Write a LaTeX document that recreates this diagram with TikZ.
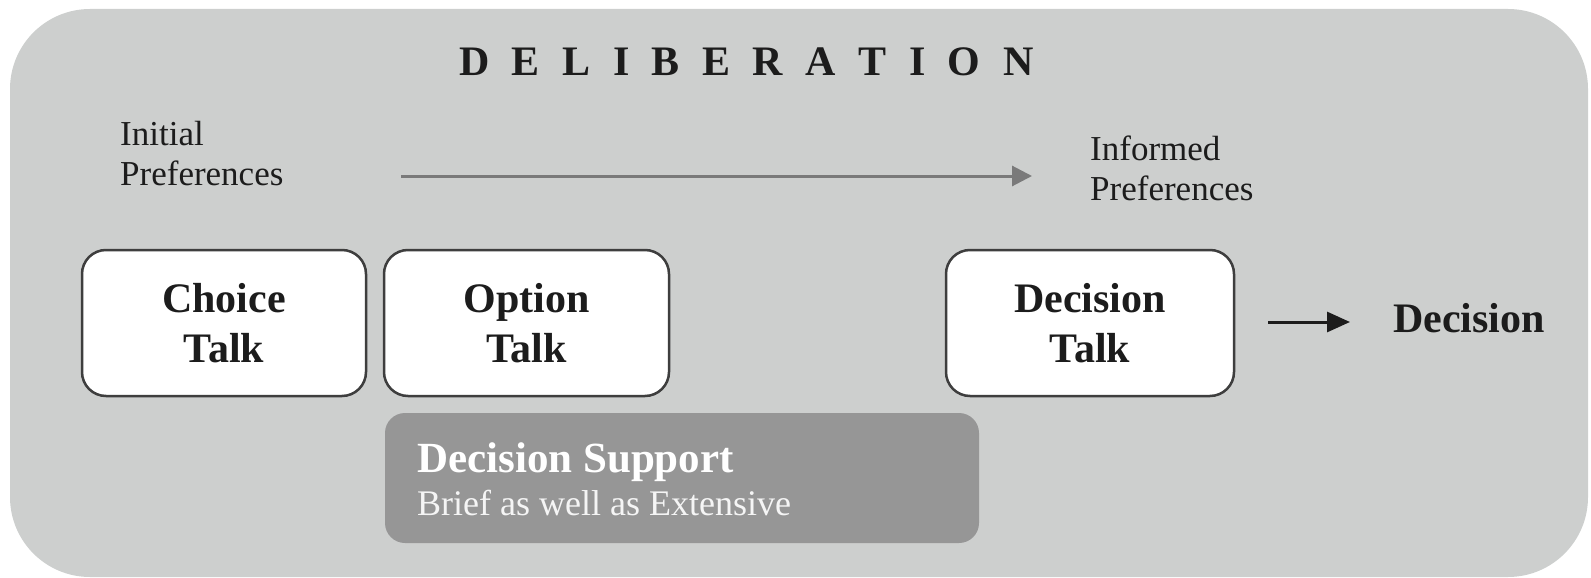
\documentclass[tikz,border=0pt]{standalone}
\usepackage{fontspec}
\setmainfont{Liberation Serif}
\usetikzlibrary{arrows.meta}
\definecolor{bgc}{RGB}{205,207,206}
\definecolor{supc}{RGB}{150,150,150}
\definecolor{bordc}{RGB}{62,62,62}
\definecolor{arrc}{RGB}{122,122,122}
\definecolor{txtc}{RGB}{28,28,28}
\tikzset{
  talkbox/.style={draw=bordc, line width=2.5pt, fill=white, rounded corners=24pt,
    minimum height=146pt, align=center, inner sep=0pt, text=txtc,
    font=\bfseries\fontsize{42}{50}\selectfont},
  preflabel/.style={anchor=base west, align=left, inner sep=0pt, text=txtc,
    font=\fontsize{35}{40}\selectfont},
}
\begin{document}
\begin{tikzpicture}[x=1pt,y=-1pt]
\useasboundingbox (0,0) rectangle (1591,578);
% outer deliberation panel
\fill[bgc, rounded corners=80pt] (10,9) rectangle (1588,577);
% decision support box
\node[fill=supc, rounded corners=20pt, minimum width=594pt, minimum height=130pt, inner sep=0pt]
  (ds) at (682,478) {};
\node[anchor=base west, inner sep=0pt, text=white, font=\bfseries\fontsize{43}{50}\selectfont]
  (dstitle) at (417,472) {Decision Support};
\node[anchor=base west, inner sep=0pt, text=white!96!black, font=\fontsize{36}{40}\selectfont]
  (dssub) at (417,515) {Brief as well as Extensive};
% title
\node[anchor=base west, inner sep=0pt, text=txtc, font=\bfseries\fontsize{42}{50}\selectfont]
  (title) at (459,76) {D\kern22.5pt E\kern22.5pt L\kern22.5pt I\kern22.5pt B\kern22.5pt E\kern22.5pt R\kern22.5pt A\kern22.5pt T\kern22.5pt I\kern22.5pt O\kern22.5pt N};
% preference labels (base anchor = last line)
\node[preflabel] (init) at (120,185) {Initial\\Preferences};
\node[preflabel] (inf) at (1090,200) {Informed\\Preferences};
\coordinate (p1) at (401,176);
\coordinate (p2) at (1032,176);
\draw[arrc, line width=3pt, -{Triangle[length=20pt,width=20pt]}] (p1) -- (p2);
% talk boxes
\node[talkbox, minimum width=284pt] (ct) at (224,323) {Choice\\Talk};
\node[talkbox, minimum width=285pt] (ot) at (526.5,323) {Option\\Talk};
\node[talkbox, minimum width=288pt] (dt) at (1090,323) {Decision\\Talk};
% final decision
\node[anchor=base west, inner sep=0pt, text=txtc, font=\bfseries\fontsize{42}{50}\selectfont]
  (dec) at (1393,332) {Decision};
\draw[txtc, line width=3pt, -{Triangle[length=23pt,width=20pt]}, shorten <=33pt, shorten >=43pt]
  (dt.east |- 0,322) -- (dec.west |- 0,322);
\end{tikzpicture}
\end{document}
